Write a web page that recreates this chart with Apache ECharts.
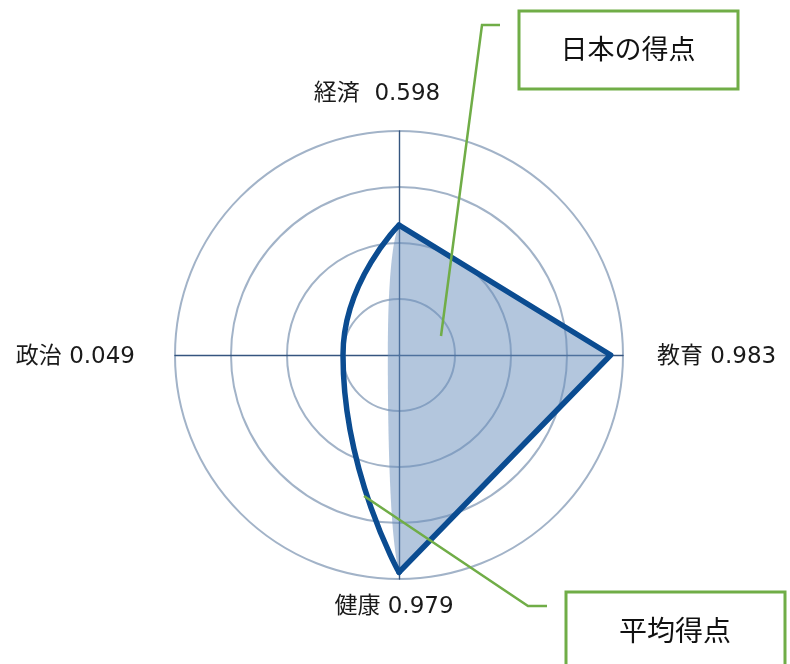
<!DOCTYPE html>
<html><head><meta charset="utf-8">
<script src="https://cdn.jsdelivr.net/npm/echarts/dist/echarts.min.js"></script>
<style>html,body{margin:0;padding:0;background:#fff}#chart{width:790px;height:664px}</style>
</head><body><div id="chart"></div>
<script>
// Indicators in counter-clockwise order starting at the top
const indicators = ['経済', '政治', '健康', '教育'];
const labelTexts = ['経済  0.598', '政治 0.049', '健康 0.979', '教育 0.983'];
// Japan's score line as drawn
const japanScores = [0.58, 0.25, 0.97, 0.945];
// Average score (filled area) as drawn
const averageScores = [0.575, 0.05, 0.96, 0.945];
const ringMax = 1;
const ringCount = 4;
const calloutJapan = '日本の得点';
const calloutAverage = '平均得点';

const CX = 399, CY = 355, R = 224;
const FONT = "'DejaVu Sans', 'Noto Sans CJK JP', sans-serif";
const FONT_CJK = "'Noto Sans CJK JP', 'Noto Sans', sans-serif";

const n = indicators.length;
const angleOf = i => i * 360 / n;
// left half (top -> left -> bottom) is curved, right half (bottom -> right -> top) straight
const half = (vals, idxs) => idxs.map(i => [vals[i % n], angleOf(i)]);
const japanLeft = half(japanScores, [0, 1, 2]);
const japanRight = half(japanScores, [2, 3, 4]);
const avgLeft = half(averageScores, [0, 1, 2]);
const avgRight = half(averageScores, [2, 3, 4]);

const pads = {
  p0: [0, 44, 11, 0],
  p1: [4, 26, 0, 0],
  p2: [3, 10, 0, 0],
  p3: [4, 0, 0, 20]
};
const rich = {};
Object.keys(pads).forEach(k => {
  rich[k] = { padding: pads[k], fontSize: 23, fontFamily: FONT, color: '#1a1a1a' };
});

const fillColor = 'rgba(103,141,187,0.5)';
const lineColor = '#0b4c91';

const chart = echarts.init(document.getElementById('chart'), null, { renderer: 'canvas' });
chart.setOption({
  animation: false,
  backgroundColor: '#ffffff',
  radar: {
    center: [CX, CY],
    radius: R,
    startAngle: 90,
    shape: 'circle',
    splitNumber: ringCount,
    nameGap: 14,
    indicator: indicators.map((name, i) => ({ name: labelTexts[i], min: 0, max: ringMax })),
    axisName: {
      color: '#1a1a1a',
      fontSize: 23,
      fontFamily: FONT,
      formatter: (name) => '{p' + labelTexts.indexOf(name) + '|' + name + '}',
      rich: rich
    },
    axisLine: { lineStyle: { color: '#35557f', width: 1.4 } },
    splitLine: { lineStyle: { color: '#a2b3c8', width: 2 } },
    splitArea: { show: false },
    axisTick: { show: false },
    axisLabel: { show: false }
  },
  polar: { center: [CX, CY], radius: R },
  angleAxis: {
    type: 'value', min: 0, max: 360, startAngle: 90, clockwise: false,
    show: false, splitLine: { show: false }, axisLine: { show: false }
  },
  radiusAxis: {
    type: 'value', min: 0, max: ringMax, show: false,
    splitLine: { show: false }, axisLine: { show: false }
  },
  series: [
    {
      name: '平均得点', type: 'line', coordinateSystem: 'polar', z: 1,
      smooth: 0.9, symbol: 'none',
      lineStyle: { width: 0, opacity: 0 },
      areaStyle: { color: fillColor, opacity: 1 },
      data: avgLeft
    },
    {
      name: '平均得点 ', type: 'line', coordinateSystem: 'polar', z: 1,
      smooth: false, symbol: 'none',
      lineStyle: { width: 0, opacity: 0 },
      areaStyle: { color: fillColor, opacity: 1 },
      data: avgRight
    },
    {
      name: '日本の得点', type: 'line', coordinateSystem: 'polar', z: 5,
      smooth: 0.55, symbol: 'none',
      lineStyle: { color: lineColor, width: 5.5, cap: 'round', join: 'round' },
      data: japanLeft
    },
    {
      name: '日本の得点 ', type: 'line', coordinateSystem: 'polar', z: 5,
      smooth: false, symbol: 'none',
      lineStyle: { color: lineColor, width: 5.5, cap: 'round', join: 'round' },
      data: japanRight
    }
  ],
  graphic: [
    { type: 'polyline', z: 10, shape: { points: [[441, 336], [482, 25], [500, 25]] },
      style: { stroke: '#70ad47', lineWidth: 2.5, fill: null } },
    { type: 'rect', z: 10, shape: { x: 519, y: 11, width: 219, height: 78 },
      style: { stroke: '#70ad47', lineWidth: 3, fill: '#ffffff' } },
    { type: 'text', z: 11, x: 628, y: 49,
      style: { text: calloutJapan, fontSize: 27, fontFamily: FONT_CJK, fill: '#111', align: 'center', verticalAlign: 'middle' } },
    { type: 'polyline', z: 10, shape: { points: [[364, 496], [528, 606], [547, 606]] },
      style: { stroke: '#70ad47', lineWidth: 2.5, fill: null } },
    { type: 'rect', z: 10, shape: { x: 566, y: 592, width: 219, height: 80 },
      style: { stroke: '#70ad47', lineWidth: 3, fill: '#ffffff' } },
    { type: 'text', z: 11, x: 675, y: 630,
      style: { text: calloutAverage, fontSize: 28, fontFamily: FONT_CJK, fill: '#111', align: 'center', verticalAlign: 'middle' } }
  ]
});
</script>
</body></html>
